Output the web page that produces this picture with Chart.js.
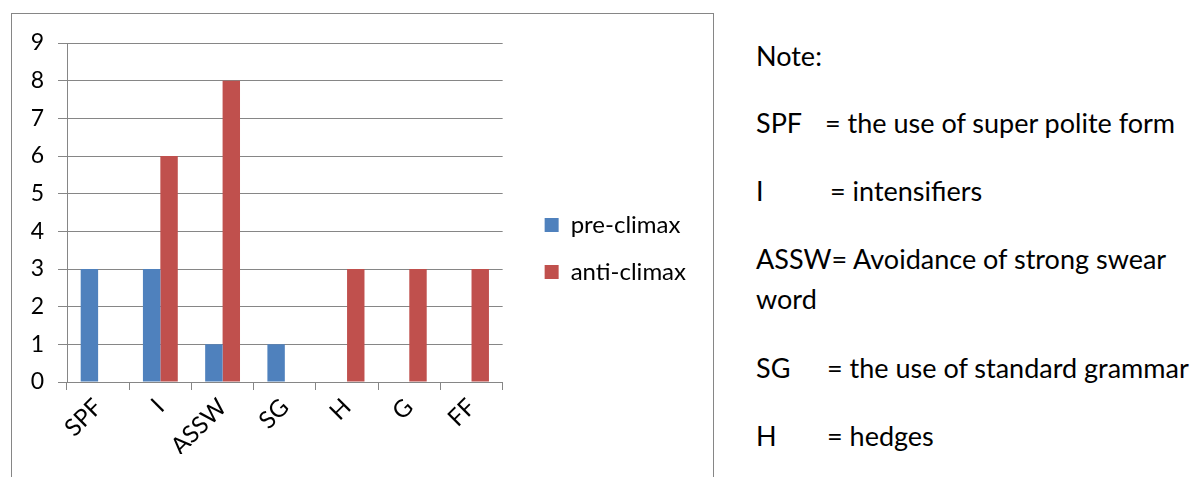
<!DOCTYPE html>
<html>
<head>
<meta charset="utf-8">
<script src="https://cdn.jsdelivr.net/npm/chart.js@4.4.0/dist/chart.umd.min.js"></script>
<style>
  body { margin: 0; width: 1198px; height: 477px; overflow: hidden; background: #fff; font-family: Lato, sans-serif; }
  #box { position: absolute; left: 11px; top: 13px; width: 701px; height: 480px; border: 1px solid #868686; }
  #box canvas { position: absolute; left: 0; top: 0; }
  .note { position: absolute; font-size: 27px; line-height: 27px; color: #000; white-space: nowrap; }
</style>
</head>
<body>
<div id="box"><canvas id="chart" width="701" height="470"></canvas></div>

<div class="note" style="left:756px;top:42px">Note:</div>
<div class="note" style="left:756px;top:109px">SPF</div>
<div class="note" style="left:825px;top:109px">= the use of super polite form</div>
<div class="note" style="left:756px;top:177px">I</div>
<div class="note" style="left:830px;top:177px">= intensifiers</div>
<div class="note" style="left:756px;top:245px">ASSW= Avoidance of strong swear</div>
<div class="note" style="left:756px;top:285px">word</div>
<div class="note" style="left:756px;top:354px">SG</div>
<div class="note" style="left:827px;top:354px">= the use of standard grammar</div>
<div class="note" style="left:756px;top:422px">H</div>
<div class="note" style="left:827px;top:422px">= hedges</div>

<script>
const categories = ['SPF', 'I', 'ASSW', 'SG', 'H', 'G', 'FF'];
const preClimax = [3, 3, 1, 1, 0, 0, 0];
const antiClimax = [0, 6, 8, 0, 3, 3, 3];
const yMin = 0;
const yMax = 9;
const yStep = 1;

const gris = '#868686';
const fuente = { family: 'Lato', size: 23 };

function crearGrafica() {
  const ctx = document.getElementById('chart').getContext('2d');
  new Chart(ctx, {
    type: 'bar',
    data: {
      labels: categories,
      datasets: [
        { label: 'pre-climax', data: preClimax, backgroundColor: '#4F81BD', categoryPercentage: 0.56, barPercentage: 1 },
        { label: 'anti-climax', data: antiClimax, backgroundColor: '#C0504D', categoryPercentage: 0.56, barPercentage: 1 }
      ]
    },
    options: {
      responsive: false,
      animation: false,
      layout: { padding: { top: 29, right: 17, bottom: 30, left: 0 } },
      plugins: {
        legend: {
          position: 'right',
          maxWidth: 300,
          labels: { boxWidth: 14, boxHeight: 14, padding: 23, color: '#000', font: { family: 'Lato', size: 24 } }
        },
        tooltip: { enabled: false }
      },
      scales: {
        x: {
          grid: { offset: true, drawOnChartArea: false, drawTicks: true, tickLength: 8, color: gris },
          border: { color: gris },
          ticks: { minRotation: 45, maxRotation: 45, autoSkip: false, padding: 3, color: '#000', font: { family: 'Lato', size: 24 } },
          afterFit: s => { s.height = 72; }
        },
        y: {
          min: yMin,
          max: yMax,
          ticks: { stepSize: yStep, padding: 14, color: '#000', font: fuente },
          grid: { color: gris, tickLength: 9 },
          border: { color: gris },
          afterFit: s => { s.width = 55; }
        },
        // empty axis: only keeps the gap between plot and legend
        gap: {
          type: 'linear',
          position: 'right',
          display: true,
          grid: { display: false },
          border: { display: false },
          ticks: { display: false },
          afterFit: s => { s.width = 19; }
        }
      }
    }
  });
}

document.addEventListener('DOMContentLoaded', crearGrafica);
</script>
</body>
</html>
